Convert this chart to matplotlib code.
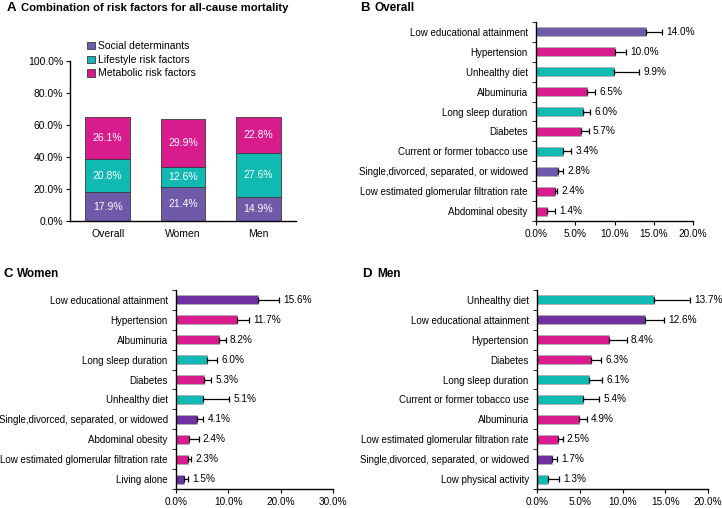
import matplotlib.pyplot as plt
import numpy as np

plt.rcParams['font.family'] = ['Liberation Sans', 'DejaVu Sans']

PURPLE_A = '#6e5aa8'
PURPLE = '#7030a0'
TEAL = '#10b9b1'
MAGENTA = '#d81b8d'

# Panel A: stacked contributions
groups = ['Overall', 'Women', 'Men']
social = [17.9, 21.4, 14.9]
lifestyle = [20.8, 12.6, 27.6]
metabolic = [26.1, 29.9, 22.8]

# Panel B: overall
b_labels = ['Low educational attainment', 'Hypertension', 'Unhealthy diet', 'Albuminuria',
            'Long sleep duration', 'Diabetes', 'Current or former tobacco use',
            'Single,divorced, separated, or widowed', 'Low estimated glomerular filtration rate',
            'Abdominal obesity']
b_values = [14.0, 10.0, 9.9, 6.5, 6.0, 5.7, 3.4, 2.8, 2.4, 1.4]
b_upper = [16.1, 11.5, 13.1, 7.5, 6.9, 6.7, 4.5, 3.5, 2.7, 2.4]
b_kind = ['s', 'm', 'l', 'm', 'l', 'm', 'l', 's', 'm', 'm']

# Panel C: women
c_labels = ['Low educational attainment', 'Hypertension', 'Albuminuria', 'Long sleep duration',
            'Diabetes', 'Unhealthy diet', 'Single,divorced, separated, or widowed',
            'Abdominal obesity', 'Low estimated glomerular filtration rate', 'Living alone']
c_values = [15.6, 11.7, 8.2, 6.0, 5.3, 5.1, 4.1, 2.4, 2.3, 1.5]
c_upper = [19.7, 14.0, 9.5, 7.9, 6.7, 10.2, 5.2, 4.3, 2.9, 2.3]
c_kind = ['s', 'm', 'm', 'l', 'm', 'l', 's', 'm', 'm', 's']

# Panel D: men
d_labels = ['Unhealthy diet', 'Low educational attainment', 'Hypertension', 'Diabetes',
            'Long sleep duration', 'Current or former tobacco use', 'Albuminuria',
            'Low estimated glomerular filtration rate', 'Single,divorced, separated, or widowed',
            'Low physical activity']
d_values = [13.7, 12.6, 8.4, 6.3, 6.1, 5.4, 4.9, 2.5, 1.7, 1.3]
d_upper = [17.9, 14.9, 10.5, 7.5, 7.6, 7.3, 5.8, 3.0, 2.3, 2.6]
d_kind = ['l', 's', 'm', 'm', 'l', 'l', 'm', 'm', 's', 'l']

W, H = 722, 508
fig = plt.figure(figsize=(W / 100, H / 100), dpi=100)


def px_axes(left, top, right, bottom):
    return fig.add_axes([left / W, 1 - bottom / H, (right - left) / W, (bottom - top) / H])


def style_spines(ax):
    for s in ['top', 'right']:
        ax.spines[s].set_visible(False)
    for s in ['left', 'bottom']:
        ax.spines[s].set_linewidth(1.0)
        ax.spines[s].set_color('black')


# ---- A ----
ax = px_axes(70, 61, 296, 221)
x = np.arange(len(groups))
ax.bar(x, social, 0.59, color=PURPLE_A, edgecolor='#3a3a3a', lw=0.6, label='Social determinants')
ax.bar(x, lifestyle, 0.59, bottom=social, color=TEAL, edgecolor='#3a3a3a', lw=0.6,
       label='Lifestyle risk factors')
bot2 = np.array(social) + np.array(lifestyle)
ax.bar(x, metabolic, 0.59, bottom=bot2, color=MAGENTA, edgecolor='#3a3a3a', lw=0.6,
       label='Metabolic risk factors')
for i in range(len(groups)):
    ax.text(x[i], social[i] / 2, f'{social[i]:.1f}%', ha='center', va='center', color='white', fontsize=7.5)
    ax.text(x[i], social[i] + lifestyle[i] / 2, f'{lifestyle[i]:.1f}%', ha='center', va='center',
            color='white', fontsize=7.5)
    ax.text(x[i], bot2[i] + metabolic[i] / 2, f'{metabolic[i]:.1f}%', ha='center', va='center',
            color='white', fontsize=7.5)
ax.set_xlim(-0.5, 2.5)
ax.set_ylim(0, 100)
ax.set_yticks(np.arange(0, 101, 20))
ax.set_yticklabels([f'{v:.1f}%' for v in range(0, 101, 20)])
ax.set_xticks(x)
ax.set_xticklabels(groups)
ax.tick_params(axis='x', length=0, labelsize=7.5, pad=6)
ax.tick_params(axis='y', length=3, labelsize=7.5, pad=2)
style_spines(ax)
ax.legend(loc='upper left', bbox_to_anchor=(82 / W, 1 - 36 / H), bbox_transform=fig.transFigure,
          frameon=False, fontsize=7.5, handlelength=0.7, handleheight=0.7, handletextpad=0.3,
          labelspacing=0.35, borderpad=0)
fig.text(7 / W, 1 - 8 / H, 'A', fontsize=9.5, fontweight='bold', va='center')
fig.text(21 / W, 1 - 8 / H, 'Combination of risk factors for all-cause mortality', fontsize=8.1,
         fontweight='bold', va='center')


def hbar_panel(ax, labels, values, upper, kinds, xmax, step, purple):
    colors = {'s': purple, 'l': TEAL, 'm': MAGENTA}
    y = np.arange(len(labels))[::-1]
    ax.barh(y, values, 0.45, color=[colors[k] for k in kinds], edgecolor='#b0b0b0', lw=0.6)
    err = np.array(upper) - np.array(values)
    ax.errorbar(values, y, xerr=[np.zeros(len(values)), err], fmt='none', ecolor='black',
                elinewidth=0.9, capsize=2.2, capthick=0.9)
    for yi, v, u in zip(y, values, upper):
        ax.annotate(f'{v:.1f}%', xy=(u, yi), xytext=(3, 0), textcoords='offset points',
                    ha='left', va='center', fontsize=7.2)
    ax.set_xlim(0, xmax)
    ax.set_ylim(-0.5, len(labels) - 0.5)
    ticks = np.arange(0, xmax + 0.01, step)
    ax.set_xticks(ticks)
    ax.set_xticklabels([f'{t:.1f}%' for t in ticks])
    ax.set_yticks(y)
    ax.set_yticklabels(labels)
    ax.set_yticks(np.arange(-0.5, len(labels)), minor=True)
    ax.tick_params(axis='y', which='major', length=0, labelsize=7.0, pad=6)
    ax.tick_params(axis='y', which='minor', length=3)
    ax.tick_params(axis='x', length=3, labelsize=7.2, pad=3)
    style_spines(ax)


# ---- B ----
ax = px_axes(536, 22, 693, 221)
hbar_panel(ax, b_labels, b_values, b_upper, b_kind, 20, 5, PURPLE_A)
fig.text(360 / W, 1 - 8 / H, 'B', fontsize=9.5, fontweight='bold', va='center')
fig.text(374 / W, 1 - 8 / H, 'Overall', fontsize=8.5, fontweight='bold', va='center')

# ---- C ----
ax = px_axes(176, 290, 333, 489)
hbar_panel(ax, c_labels, c_values, c_upper, c_kind, 30, 10, PURPLE)
fig.text(3 / W, 1 - 274 / H, 'C', fontsize=9.5, fontweight='bold', va='center')
fig.text(17 / W, 1 - 274 / H, 'Women', fontsize=8.5, fontweight='bold', va='center')

# ---- D ----
ax = px_axes(537, 290, 708, 489)
hbar_panel(ax, d_labels, d_values, d_upper, d_kind, 20, 5, PURPLE)
fig.text(362 / W, 1 - 274 / H, 'D', fontsize=9.5, fontweight='bold', va='center')
fig.text(377 / W, 1 - 274 / H, 'Men', fontsize=8.5, fontweight='bold', va='center')

fig.savefig('out.png', dpi=100)
